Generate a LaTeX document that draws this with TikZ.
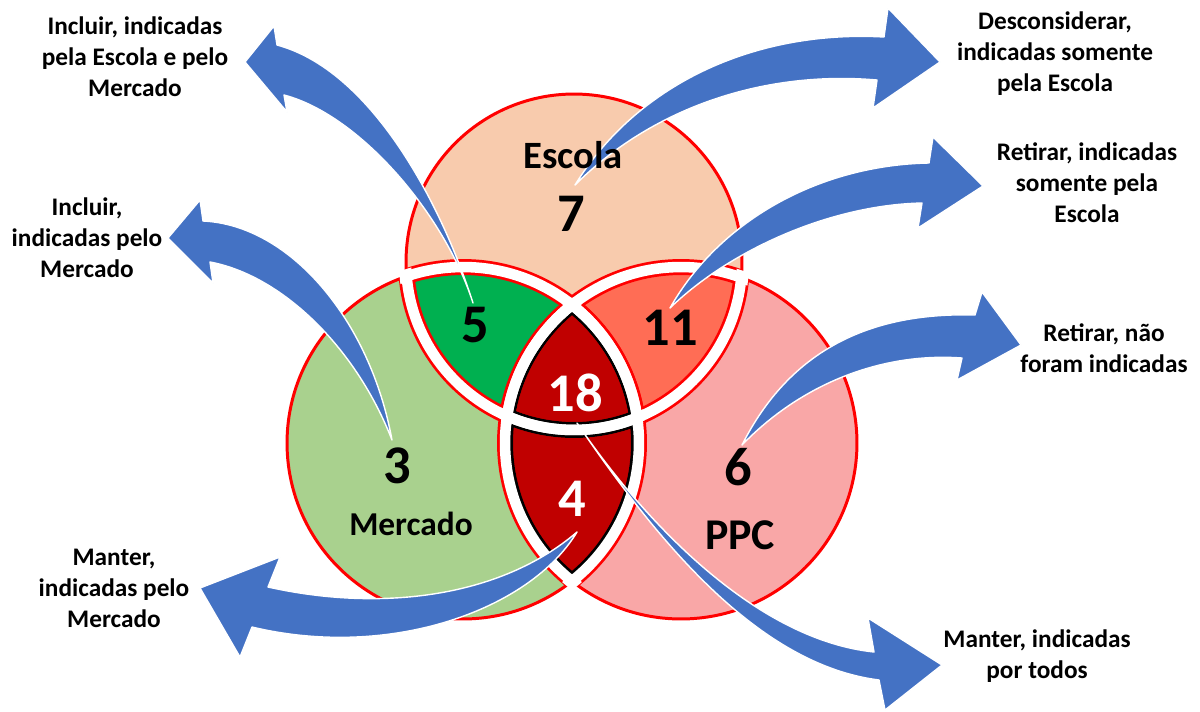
\documentclass[tikz,border=0pt]{standalone}
\usepackage{fontspec}
\setmainfont{Carlito}
\usetikzlibrary{positioning}
\definecolor{vPeach}{HTML}{F8CBAD}
\definecolor{vLime}{HTML}{A9D18E}
\definecolor{vPink}{HTML}{F9A7A7}
\definecolor{vGreen}{HTML}{00B050}
\definecolor{vCoral}{HTML}{FF6D55}
\definecolor{vDark}{HTML}{C00000}
\definecolor{vRed}{HTML}{FF0000}
\definecolor{vBlue}{HTML}{4472C4}
% the three sets
\newcommand{\cEsc}{(574,262) circle[radius=3.36cm]}
\newcommand{\cMer}{(463,443) circle[radius=3.52cm]}
\newcommand{\cPpc}{(681,443) circle[radius=3.52cm]}
% a bit larger, so the white gaps run out through the rim
\newcommand{\cEscW}{(574,262) circle[radius=3.50cm]}
\newcommand{\cMerW}{(463,443) circle[radius=3.66cm]}
\newcommand{\cPpcW}{(681,443) circle[radius=3.66cm]}
\newcommand{\gapon}[3]{\begin{scope}\clip #2;\draw[#3] #1;\end{scope}}
\tikzset{
  rimline/.style={draw=vRed, line width=1.7pt},
  gapred/.style={draw=vRed, line width=9.1pt},
  gapblack/.style={draw=black, line width=9.1pt},
  gapwhite/.style={draw=white, line width=6pt},
  bignum/.style={font=\fontsize{31}{36}\selectfont\bfseries},
  setname/.style={font=\fontsize{22}{26}\selectfont\bfseries},
  note/.style={font=\fontsize{14.4}{17.6}\selectfont\bfseries, align=center},
  bluearrow/.style={fill=vBlue, draw=white, line width=0.8pt, line join=round},
}
\begin{document}
\begin{tikzpicture}[x=0.02cm, y=-0.02cm]
\useasboundingbox (0,0) rectangle (1200,711);
% fills
\fill[vPeach] \cEsc;
\fill[vLime] \cMer;
\fill[vPink] \cPpc;
\begin{scope}
  \clip \cEsc;
  \fill[vGreen] \cMer;
  \fill[vCoral] \cPpc;
\end{scope}
\begin{scope}
  \clip \cMer;
  \fill[vDark] \cPpc;
\end{scope}
% rims and gaps
\draw[rimline] \cEsc;
\draw[rimline] \cMer;
\draw[rimline] \cPpc;
\gapon{\cEsc}{\cMer}{gapred}
\gapon{\cEsc}{\cPpc}{gapred}
\gapon{\cMer}{\cEsc}{gapred}
\gapon{\cMer}{\cPpc}{gapred}
\gapon{\cPpc}{\cEsc}{gapred}
\gapon{\cPpc}{\cMer}{gapred}
\begin{scope}
  \clip \cMer;
  \clip \cPpc;
  \draw[gapblack] \cEsc;
  \draw[gapblack] \cMer;
  \draw[gapblack] \cPpc;
\end{scope}
\gapon{\cEsc}{\cMerW}{gapwhite}
\gapon{\cEsc}{\cPpcW}{gapwhite}
\gapon{\cMer}{\cEscW}{gapwhite}
\gapon{\cMer}{\cPpcW}{gapwhite}
\gapon{\cPpc}{\cEscW}{gapwhite}
\gapon{\cPpc}{\cMerW}{gapwhite}
% arrow tails
\coordinate (t7) at (575,185);
\coordinate (t5) at (473,303);
\coordinate (t11) at (670,308);
\coordinate (t3) at (392,440);
\coordinate (t18) at (577,423);
\coordinate (t4) at (577,532);
\coordinate (t6) at (742,445);
% arrows
\path[bluearrow] (t5) .. controls (440,200) and (370,70) .. (277,45) -- (274,26) -- (245,62) -- (287,112) -- (284,95) .. controls (360,115) and (445,215) .. (t5) -- cycle;
\path[bluearrow] (t3) .. controls (370,320) and (290,225) .. (203,221) -- (200,200) -- (168,238) -- (213,283) -- (210,262) .. controls (280,275) and (355,345) .. (t3) -- cycle;
\path[bluearrow] (t4) .. controls (500,598) and (380,612) .. (268,587) -- (280,557) -- (200,588) -- (240,657) -- (252,627) .. controls (390,660) and (530,610) .. (t4) -- cycle;
\path[bluearrow] (t18) .. controls (650,530) and (760,640) .. (874,652) -- (868,618) -- (942,665) -- (885,710) -- (879,680) .. controls (760,665) and (660,545) .. (t18) -- cycle;
\path[bluearrow] (t6) .. controls (790,350) and (870,312) .. (975,315) -- (982,292) -- (1021,345) -- (957,380) -- (962,358) .. controls (880,352) and (800,385) .. (t6) -- cycle;
\path[bluearrow] (t11) .. controls (720,220) and (820,165) .. (929,163) -- (933,137) -- (983,186) -- (918,228) -- (922,203) .. controls (830,205) and (730,250) .. (t11) -- cycle;
\path[bluearrow] (t7) .. controls (640,80) and (760,30) .. (884,37) -- (888,8) -- (940,62) -- (873,108) -- (877,80) .. controls (760,70) and (650,110) .. (t7) -- cycle;
% set names and counts
\node[setname] (nEsc) at (573,155) {Escola};
\node[bignum] (n7) at (571,214) {7};
\node[bignum] (n5) at (475,325) {5};
\node[bignum] (n11) at (670,328) {11};
\node[bignum, text=white] (n18) at (575,393) {18};
\node[bignum] (n3) at (397,466) {3};
\node[font=\fontsize{19}{23}\selectfont\bfseries] (nMer) at (411,524) {Mercado};
\node[bignum, text=white] (n4) at (572,499) {4};
\node[bignum] (n6) at (738,467) {6};
\node[font=\fontsize{25}{29}\selectfont\bfseries] (nPpc) at (740,535) {PPC};
% outcomes
\node[note] (lEM) at (135,57) {Incluir, indicadas\\pela Escola e pelo\\Mercado};
\node[note] (lM) at (87,238) {Incluir,\\indicadas pelo\\Mercado};
\node[note] (lMk) at (114,588) {Manter,\\indicadas pelo\\Mercado};
\node[note] (lE) at (1055,54) {Desconsiderar,\\indicadas somente\\pela Escola};
\node[note] (lEP) at (1087,183) {Retirar, indicadas\\somente pela\\Escola};
\node[note] (lP) at (1104,348) {Retirar, não\\foram indicadas};
\node[note] (lAll) at (1037,656) {Manter, indicadas\\por todos};
\end{tikzpicture}
\end{document}
